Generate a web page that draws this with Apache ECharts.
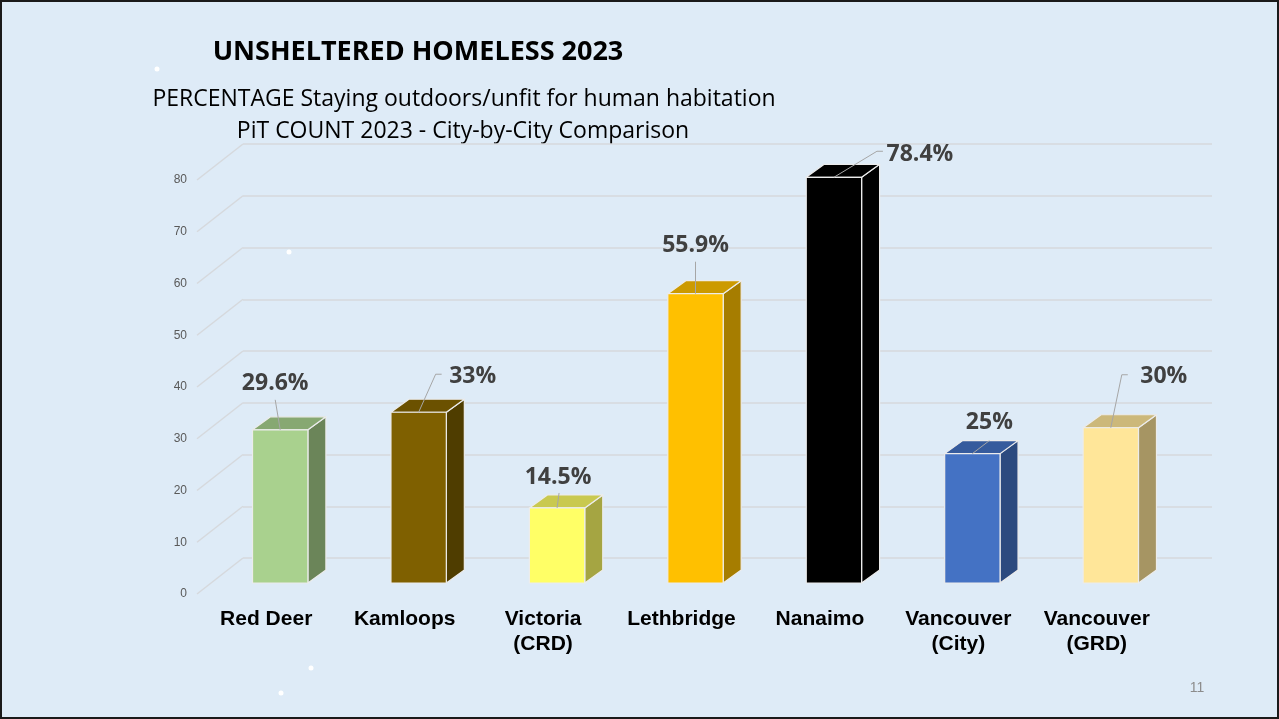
<!DOCTYPE html>
<html>
<head>
<meta charset="utf-8">
<script src="https://cdn.jsdelivr.net/npm/echarts@6/dist/echarts.min.js"></script>
<style>
  html, body { margin: 0; padding: 0; background: #deebf7; }
  #chart { width: 1279px; height: 719px; }
</style>
</head>
<body>
<div id="chart"></div>
<script>
// data
const cities = ['Red Deer', 'Kamloops', 'Victoria\n(CRD)', 'Lethbridge', 'Nanaimo', 'Vancouver\n(City)', 'Vancouver\n(GRD)'];
const pctValues = [29.6, 33, 14.5, 55.9, 78.4, 25, 30];
const pctLabels = ['29.6%', '33%', '14.5%', '55.9%', '78.4%', '25%', '30%'];
const yTicks = [0, 10, 20, 30, 40, 50, 60, 70, 80];

// styles for the fake 3D bars
const frontColors = ['#a9d18e', '#7f6000', '#ffff66', '#ffc000', '#000000', '#4472c4', '#ffe699'];
const sideColors  = ['#6b8559', '#4f3d00', '#a5a542', '#a67d00', '#000000', '#2c4a7f', '#a69563'];
const topColors   = ['#87a872', '#6b5100', '#c9c94f', '#cc9a00', '#000000', '#365b9d', '#ccb87a'];
// label placement relative to the top front edge of each bar: [textDx, textDy, leaderDx, leaderDy, stub]
const labelPlace = [
  [-5, -46, -5, -30, 0],
  [54, -36, 17, -38, 6],
  [1, -31, 2, -15, 0],
  [0, -48, 0, -32, 0],
  [86, -23, 43, -26, 6],
  [17, -31, 17, -13, 0],
  [53, -51, 11, -53, 6]
];

const BAR_DEPTH = [18, -13];   // side face offset
const WALL_DEPTH = [46, -36];  // front plane -> back wall

const chart = echarts.init(document.getElementById('chart'));

const yAxisBase = { type: 'value', min: 0, max: 80, interval: 10 };

const option = {
  backgroundColor: '#deebf7',
  animation: false,
  grid: [
    { left: 243, right: 67, top: 144, bottom: 161 },   // back wall
    { left: 197, right: 113, top: 180, bottom: 125 },  // front plane (labels)
    { left: 211, right: 99, top: 169, bottom: 136 }    // bar plane
  ],
  xAxis: [
    { gridIndex: 0, type: 'category', data: cities, show: false },
    {
      gridIndex: 1, type: 'category', data: cities,
      axisLine: { show: false }, axisTick: { show: false },
      axisLabel: {
        margin: 13, color: '#000', fontSize: 21, fontWeight: 'bold',
        fontFamily: 'Liberation Sans, Arial', lineHeight: 25, interval: 0
      }
    },
    { gridIndex: 2, type: 'category', data: cities, show: false }
  ],
  yAxis: [
    Object.assign({ gridIndex: 0, axisLabel: { show: false }, axisLine: { show: false }, axisTick: { show: false },
      splitLine: { lineStyle: { color: '#d6d9dd', width: 1.5 } } }, yAxisBase),
    Object.assign({ gridIndex: 1, axisLine: { show: false }, axisTick: { show: false }, splitLine: { show: false },
      axisLabel: { color: '#595959', fontSize: 12, fontFamily: 'Liberation Sans, Arial', margin: 10 } }, yAxisBase),
    Object.assign({ gridIndex: 2, show: false, splitLine: { show: false } }, yAxisBase)
  ],
  series: [
    {
      // side wall lines joining the front plane to the back wall
      type: 'custom', xAxisIndex: 1, yAxisIndex: 1, silent: true,
      data: yTicks.map(v => [0, v]),
      renderItem: function (params, api) {
        const y = api.coord([0, api.value(1)])[1];
        const x = params.coordSys.x;
        return {
          type: 'line',
          shape: { x1: x, y1: y, x2: x + WALL_DEPTH[0], y2: y + WALL_DEPTH[1] },
          style: { stroke: '#d6d9dd', lineWidth: 1.5 }
        };
      }
    },
    {
      type: 'custom', xAxisIndex: 2, yAxisIndex: 2,
      data: pctValues.map((v, i) => [i, v]),
      renderItem: function (params, api) {
        const i = params.dataIndex;
        const top = api.coord([api.value(0), api.value(1)]);
        const base = api.coord([api.value(0), 0]);
        const bw = api.size([1, 0])[0] * 0.4;
        const xl = top[0] - bw / 2, xr = top[0] + bw / 2;
        const dx = BAR_DEPTH[0], dy = BAR_DEPTH[1];
        const edge = { stroke: '#ececec', lineWidth: 1.2, lineJoin: 'round' };
        const lp = labelPlace[i];
        const cx = top[0], ty = top[1];
        const leader = [[cx, ty], [cx + lp[2], ty + lp[3]]];
        if (lp[4]) leader.push([cx + lp[2] + lp[4], ty + lp[3]]);
        return {
          type: 'group',
          children: [
            {
              type: 'polygon',
              shape: { points: [[xr, top[1]], [xr + dx, top[1] + dy], [xr + dx, base[1] + dy], [xr, base[1]]] },
              style: Object.assign({ fill: sideColors[i] }, edge)
            },
            {
              type: 'polygon',
              shape: { points: [[xl, top[1]], [xl + dx, top[1] + dy], [xr + dx, top[1] + dy], [xr, top[1]]] },
              style: Object.assign({ fill: topColors[i] }, edge)
            },
            {
              type: 'rect',
              shape: { x: xl, y: top[1], width: bw, height: base[1] - top[1] },
              style: Object.assign({ fill: frontColors[i] }, edge)
            },
            {
              type: 'polyline',
              shape: { points: leader },
              style: { stroke: '#a6a6a6', lineWidth: 1, fill: null }
            },
            {
              type: 'text',
              style: {
                text: pctLabels[i], x: cx + lp[0], y: ty + lp[1],
                fill: '#404040', fontSize: 23, fontWeight: 'bold', fontFamily: 'Open Sans',
                align: 'center', verticalAlign: 'middle'
              }
            }
          ]
        };
      }
    }
  ],
  graphic: [
    { type: 'rect', shape: { x: 1, y: 1, width: 1277, height: 717 }, style: { fill: null, stroke: '#1a1a1a', lineWidth: 2 } },
    { type: 'text', style: { text: 'UNSHELTERED HOMELESS 2023', x: 418, y: 52, align: 'center', verticalAlign: 'middle',
      fill: '#000', fontSize: 27, fontWeight: 'bold', fontFamily: 'Open Sans' } },
    { type: 'text', style: { text: 'PERCENTAGE Staying outdoors/unfit for human habitation', x: 464, y: 99, align: 'center', verticalAlign: 'middle',
      fill: '#000', fontSize: 23, fontFamily: 'Open Sans' } },
    { type: 'text', style: { text: 'PiT COUNT 2023 - City-by-City Comparison', x: 463, y: 131, align: 'center', verticalAlign: 'middle',
      fill: '#000', fontSize: 23, fontFamily: 'Open Sans' } },
    { type: 'text', style: { text: '11', x: 1197, y: 688, align: 'center', verticalAlign: 'middle',
      fill: '#8c8c8c', fontSize: 14, fontFamily: 'Liberation Sans, Arial' } },
    { type: 'circle', shape: { cx: 157, cy: 69, r: 2.5 }, style: { fill: '#fff' } },
    { type: 'circle', shape: { cx: 289, cy: 252, r: 2.5 }, style: { fill: '#fff' } },
    { type: 'circle', shape: { cx: 311, cy: 668, r: 2.5 }, style: { fill: '#fff' } },
    { type: 'circle', shape: { cx: 281, cy: 693, r: 2.5 }, style: { fill: '#fff' } }
  ]
};

chart.setOption(option);
</script>
</body>
</html>
